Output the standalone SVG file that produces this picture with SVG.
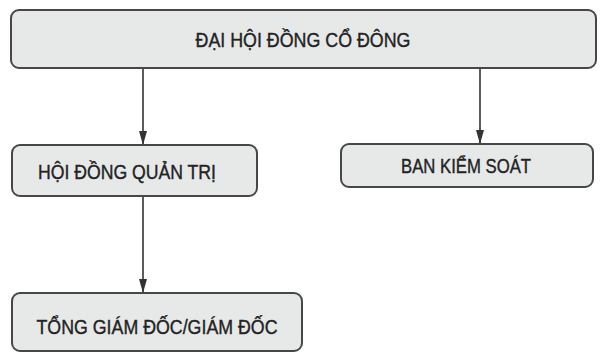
<svg xmlns="http://www.w3.org/2000/svg" width="603" height="355" viewBox="0 0 603 355">
<style>
.box{fill:#e7e9e9;stroke:#474747;stroke-width:2}
.t{font-family:"Liberation Sans",Arial,sans-serif;font-size:21px;fill:#232323;stroke:#232323;stroke-width:0.4;text-anchor:middle}
.c{stroke:#333;stroke-width:1.6;fill:none;marker-end:url(#ah)}
</style>
<defs>
<marker id="ah" viewBox="0 0 14 8" refX="14" refY="4" markerWidth="14" markerHeight="8" markerUnits="userSpaceOnUse" orient="auto"><path d="M0,0 L14,4 L0,8 z" fill="#333"/></marker>
</defs>
<rect width="603" height="355" fill="#fff"/>
<g id="connectors">
<line class="c" x1="143" y1="69" x2="143" y2="145"/>
<line class="c" x1="480" y1="69" x2="480" y2="144"/>
<line class="c" x1="143" y1="197" x2="143" y2="293"/>
</g>
<g id="dhdcd">
<rect class="box" x="11" y="10" width="585" height="58" rx="8"/>
<text class="t" x="303" y="47" textLength="215" lengthAdjust="spacingAndGlyphs">ĐẠI HỘI ĐỒNG CỔ ĐÔNG</text>
</g>
<g id="hdqt">
<rect class="box" x="12" y="145" width="245" height="51" rx="8"/>
<text class="t" x="127" y="179" textLength="178" lengthAdjust="spacingAndGlyphs">HỘI ĐỒNG QUẢN TRỊ</text>
</g>
<g id="bks">
<rect class="box" x="341" y="144" width="252" height="43" rx="8"/>
<text class="t" x="466" y="173" textLength="130" lengthAdjust="spacingAndGlyphs">BAN KIỂM SOÁT</text>
</g>
<g id="tgd">
<rect class="box" x="12" y="293" width="290" height="58" rx="8"/>
<text class="t" x="157" y="334" textLength="241" lengthAdjust="spacingAndGlyphs">TỔNG GIÁM ĐỐC/GIÁM ĐỐC</text>
</g>
</svg>
